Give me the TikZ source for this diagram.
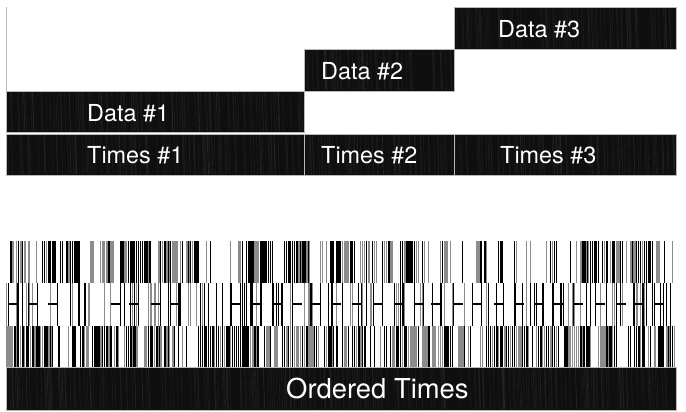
\documentclass[tikz,border=0pt]{standalone}
\usepackage{fontspec}
\setmainfont{TeX Gyre Heros}
\newcommand\boxtex[4]{%
  \pgfmathtruncatemacro\nst{(#3-#1)/2.5}%
  \foreach \k in {1,...,\nst}{%
    \pgfmathsetmacro\sx{#1+1+rnd*(#3-#1-3)}%
    \pgfmathsetmacro\ya{#2+1}\pgfmathsetmacro\yb{#4-1}%
    \draw[black!70, line width=0.4bp, opacity=0.3] (\sx,\ya) -- (\sx+1.2,\yb);
  }%
}
\begin{document}
\begin{tikzpicture}[x=1bp,y=-1bp,
  blk/.style={fill=black!94, draw=gray!55, line width=0.8bp, inner sep=0pt, outer sep=0pt, anchor=north west},
  lbl/.style={text=white, font=\fontsize{23.5}{23.5}\selectfont, anchor=base west, inner sep=0pt},
  big/.style={lbl, font=\fontsize{27.5}{27.5}\selectfont},
  gline/.style={draw=gray!55, line width=0.8bp}]
\useasboundingbox[fill=white] (0,0) rectangle (686,411);
\pgfmathsetseed{5}
% boxes
\node[blk, minimum width=298bp, minimum height=41bp] (d1) at (6,91) {};
\node[blk, minimum width=298bp, minimum height=41bp] (t1) at (6,134) {};
\node[blk, minimum width=150bp, minimum height=42bp] (d2) at (304,49) {};
\node[blk, minimum width=222bp, minimum height=42bp] (d3) at (454,7) {};
\node[blk, minimum width=150bp, minimum height=41bp] (t2) at (304,134) {};
\node[blk, minimum width=222bp, minimum height=41bp] (t3) at (454,134) {};
\node[blk, minimum width=670bp, minimum height=43bp] (ot) at (6,367) {};
\boxtex{6}{91}{304}{132}
\boxtex{6}{134}{304}{175}
\boxtex{304}{49}{454}{91}
\boxtex{454}{7}{676}{49}
\boxtex{304}{134}{454}{175}
\boxtex{454}{134}{676}{175}
\boxtex{6}{367}{676}{410}
\coordinate (top) at (6,7);
\draw[gline] (d1.north west) -- (top);
% labels
\node[lbl] (ld1) at (87,121) {Data \#1};
\node[lbl] (lt1) at (87,163) {Times \#1};
\node[lbl] (ld2) at (321,79) {Data \#2};
\node[lbl] (lt2) at (321,163) {Times \#2};
\node[lbl] (ld3) at (498,37) {Data \#3};
\node[lbl] (lt3) at (500,163) {Times \#3};
\node[big] (lot) at (286,398) {Ordered Times};
% barcode rows 1 and 3
\gdef\blockd{0.5}
\foreach \ya/\hh/\p in {241/42/0.8, 326/41/0.95} {
  \foreach \i in {0,...,334} {
    \pgfmathtruncatemacro\m{mod(\i,6)}
    \ifnum\m=0 \pgfmathsetmacro\dd{rnd}\xdef\blockd{\dd}\fi
    \pgfmathsetmacro\xx{6+2*\i}
    \pgfmathsetmacro\r{rnd}
    \pgfmathsetmacro\q{rnd}
    \pgfmathtruncatemacro\g{\r<\p*(0.35+\blockd) ? (\q<0.6 ? 100 : 45) : 0}
    \pgfmathsetmacro\u{rnd}
    \pgfmathsetmacro\w{\u<0.12 ? 3.6 : (\u<0.35 ? 2.2 : 1.1)}
    \ifnum\g>0 \fill[black!\g] (\xx,\ya) rectangle ++(\w,\hh);\fi
  }
}
% barcode row 2
\foreach \i in {0,...,334} {
  \pgfmathsetmacro\xx{6+2*\i}
  \pgfmathsetmacro\r{rnd}
  \pgfmathsetmacro\q{rnd}
  \pgfmathtruncatemacro\g{\r<0.32 ? (\q<0.5 ? 100 : 45) : 0}
  \pgfmathsetmacro\w{rnd<0.15 ? 2.2 : 1.1}
  \ifnum\g>0 \fill[black!\g] (\xx,283) rectangle ++(\w,43);\fi
}
\foreach \k in {0,...,32} {
  \pgfmathsetmacro\xa{7+20.2*\k+rnd*3}
  \pgfmathsetmacro\r{rnd}
  \pgfmathsetmacro\s{rnd}
  \ifdim\r pt<0.88pt
    \draw[line width=1.4bp] (\xa,304) -- ++(10,0);
    \ifdim\s pt<0.75pt \fill (\xa,283) rectangle ++(1.2,43);\fi
    \ifdim\s pt>0.3pt \fill (\xa+9,283) rectangle ++(1.2,43);\fi
  \fi
}
\end{tikzpicture}
\end{document}
